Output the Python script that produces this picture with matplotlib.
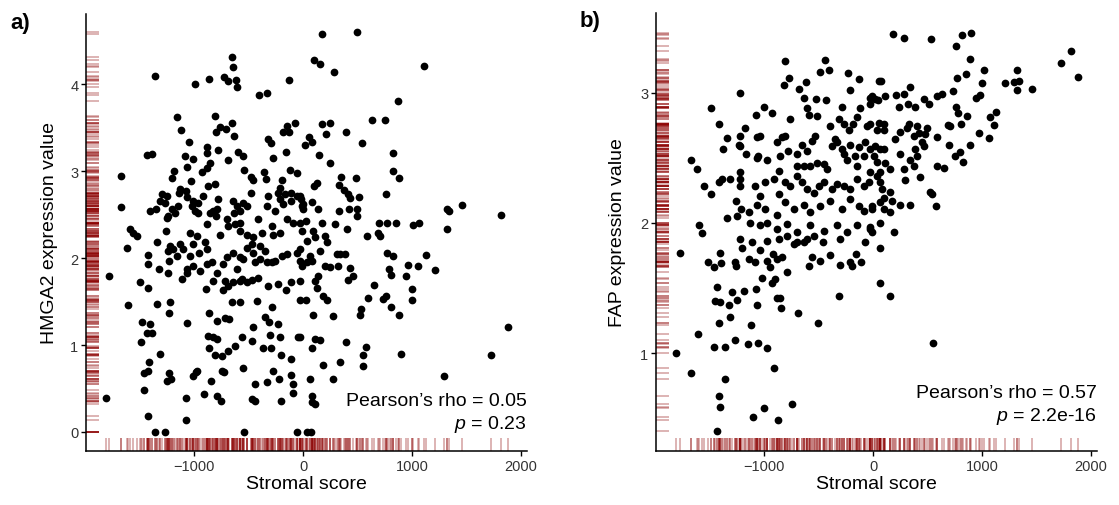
import matplotlib
matplotlib.use("Agg")
import matplotlib.pyplot as plt
import numpy as np

plt.rcParams['font.family'] = ['Liberation Sans', 'DejaVu Sans']
plt.rcParams['mathtext.fontset'] = 'custom'
plt.rcParams['mathtext.it'] = 'Liberation Sans:italic'
plt.rcParams['mathtext.rm'] = 'Liberation Sans'

# panel a: stromal score vs HMGA2
stromal_a = [
    -654, -639, -1361, -725, -685, -617, -603, -994, -865, -401, -328, -126,
    -1159, -810, -654, -761, -706, -801, -636, -1122, -1046, -883, -883, -777,
    -1434, -1388, -1080, -1006, -685, -593, -553, -318, -296, -181, -128, -150, -73,
    -272, -153, -119, -58, 52, 21, -1670, -1670, -1183, -1199,
    -1067, -929, -883, -853, -1030, -1128, -1073, -1140, -869, -805,
    -538, -477, -462, -355, -342, -477, -318, -211, -232, -190,
    -110, -58, -18, -6, -1296, -1250, -1312, -1266, -1404, -1349,
    -1205, -1144, -1174, -1236, -1245,
    -1067, -1006, -1021, -960, -915, -991, -960,
    -783, -792, -823, -853, -801,
    -639, -548, -608, -517, -578, -633,
    -410, -333, -257, -211, -181, -165, -113, -28, 3, -3,
    -150, -89, -28, -700, -578,
    172, 498, 101, 156, 287, 1113, 869, 630, 752, 177, 248, 211, 85, 394, 544,
    150, 248, 823, 823, 884, 349, 486, 101, 126, 333, 376, 410, 431, 517,
    80, 140, 28, 761, 425, 493, 493, 333, 1318, 1343, 1462, 1817,
    172, 294, 401, 697, 768, 853, 1012, 1064, 1318,
    -12, 34, 95, 110, 202, 217, 584, 691, 706,
    -28, 64, 80, 156, 309, 339, 385, 202, 248, 324, 431,
    768, 823, 1128, 967, 1059, 1212, 792, 805, 945,
    -12, -28, 110, 140, 126, 416, 462, 651, 997, 997,
    600, 733, 764, 805, 884, -28, 28, 186, 217,
    89, 278, 523, 532, 1878, 1727, 1294, 899,
    -28, 110, 156, 80, 394, 578, 548, 181, 339, 553, 272, 80, 110, 80,
    -1361, -1263, -541, -58, 34, 71,
    -1587, -1557, -1526, -1260, -1037, -975, -899, -883, -761, -685, -624, -578,
    -517, -456, -379, -287, -272, -211,
    -1618, -1419, -1342, -1419,
    -1220, -1236, -1190, -1128, -1098, -1227, -1159,
    -1006, -1037, -951, -883, -1006, -1067, -1113, -1067, -945,
    -1321, -1236,
    -883, -837, -792, -823, -731, -700, -639, -578, -548, -716, -639, -562, -608,
    -517, -472, -456, -394, -349, -440, -394, -333, -287, -257, -196, -150, -58, -28, 34,
    -1495, -1419,
    -890, -737, -685, -578, -517, -472, -410,
    -318, -227, -156, -113,
    -1609, -1337, -1220, -1229,
    -654, -578, -425, -287,
    -860, -792, -716, -676, -349, -309, -227, -456,
    -1474, -1404, -1434, -1388, -1489, -1067,
    -874, -823, -792, -860, -807, -746, -685, -624, -562, -465,
    -364, -294, -303, -211, -202, -113, -43,
    -1312, -1410, -1456, -1419,
    -1227, -1245, -1214,
    -1006, -982, -970, -844,
    -746, -725, -548,
    -440, -327, -278, -217, -113, -94, -89, 64,
    -1456, -1807,
    -1073, -906, -792, -752, -471, -440, -202,
    -1419, -1073,
    -1777,
]
hmga2 = [
    4.32, 4.20, 4.10, 4.09, 4.04, 4.05, 3.97, 4.01, 4.06, 3.88, 3.90, 4.05,
    3.63, 3.64, 3.55, 3.51, 3.49, 3.45, 3.41, 3.47, 3.34, 3.28, 3.21, 3.25,
    3.19, 3.20, 3.18, 3.14, 3.13, 3.22, 3.18, 3.37, 3.32, 3.45, 3.45, 3.52, 3.56,
    3.15, 3.22, 3.02, 2.98, 3.39, 3.30, 2.95, 2.59, 3.00, 2.92,
    3.05, 2.99, 3.04, 3.10, 2.89, 2.79, 2.77, 2.75, 2.83, 2.85,
    3.02, 2.93, 2.90, 2.99, 2.91, 2.75, 2.72, 2.81, 2.75, 2.90,
    2.75, 2.72, 2.68, 2.60, 2.74, 2.72, 2.66, 2.64, 2.54, 2.57,
    2.56, 2.60, 2.52, 2.49, 2.46,
    2.70, 2.66, 2.60, 2.64, 2.72, 2.54, 2.52,
    2.68, 2.56, 2.54, 2.52, 2.49,
    2.66, 2.64, 2.60, 2.60, 2.54, 2.52,
    2.45, 2.60, 2.54, 2.68, 2.62, 2.74, 2.66, 2.72, 2.56, 2.62,
    2.45, 2.41, 2.41, 2.45, 2.41,
    4.58, 4.60, 4.28, 4.24, 4.14, 4.21, 3.81, 3.59, 3.59, 3.54, 3.55, 3.43, 3.34, 3.45, 3.33,
    3.19, 3.10, 3.21, 3.00, 2.92, 2.93, 2.92, 2.83, 2.87, 2.84, 2.78, 2.74, 2.69, 2.70,
    2.65, 2.57, 2.43, 2.74, 2.57, 2.56, 2.48, 2.54, 2.57, 2.54, 2.61, 2.50,
    2.41, 2.39, 2.33, 2.41, 2.40, 2.41, 2.38, 2.40, 2.33,
    2.31, 2.20, 2.31, 2.24, 2.26, 2.19, 2.26, 2.29, 2.26,
    2.10, 2.03, 1.97, 2.08, 2.05, 2.05, 2.05, 1.91, 1.90, 1.91, 1.89,
    2.06, 2.03, 2.04, 1.92, 1.91, 1.86, 1.87, 1.81, 1.80,
    1.91, 1.74, 1.74, 1.80, 1.66, 1.75, 1.79, 1.69, 1.65, 1.52,
    1.54, 1.53, 1.56, 1.44, 1.34, 1.52, 1.52, 1.56, 1.52,
    1.35, 1.33, 1.35, 1.41, 1.21, 0.88, 0.64, 0.90,
    1.09, 1.07, 1.06, 0.97, 1.03, 0.98, 0.89, 0.77, 0.81, 0.76, 0.61, 0.41, 0.32, 0.34,
    0.0, 0.0, 0.0, 0.0, 0.0, 0.0,
    2.33, 2.29, 2.25, 2.31, 2.29, 2.26, 2.18, 2.39, 2.27, 2.37, 2.39, 2.31,
    2.27, 2.24, 2.29, 2.37, 2.27, 2.29,
    2.12, 2.04, 2.18, 1.93,
    2.14, 2.08, 2.10, 2.16, 2.10, 1.97, 2.03,
    2.16, 2.03, 2.06, 2.10, 1.91, 1.87, 1.76, 1.83, 1.85,
    1.87, 1.83,
    1.93, 1.95, 1.83, 1.74, 1.93, 2.01, 2.06, 2.01, 1.99, 1.74, 1.72, 1.76, 1.87,
    2.12, 2.16, 2.06, 2.14, 2.08, 1.95, 1.99, 1.95, 1.95, 1.97, 2.03, 2.05, 2.06, 1.97, 1.95,
    1.72, 1.66,
    1.64, 1.63, 1.68, 1.74, 1.72, 1.75, 1.77,
    1.68, 1.70, 1.63, 1.73,
    1.46, 1.47, 1.49, 1.37,
    1.49, 1.50, 1.51, 1.44,
    1.37, 1.28, 1.31, 1.30, 1.32, 1.26, 1.24, 1.21,
    1.26, 1.24, 1.14, 1.14, 1.03, 1.25,
    1.10, 1.09, 1.07, 0.97, 0.89, 0.87, 0.93, 0.99, 1.09, 1.05,
    0.97, 0.97, 1.12, 1.09, 0.89, 0.84, 1.09,
    0.90, 0.80, 0.68, 0.70,
    0.68, 0.59, 0.61,
    0.64, 0.69, 0.70, 0.59,
    0.70, 0.69, 0.73,
    0.55, 0.57, 0.70, 0.61, 0.66, 0.55, 0.45, 0.61,
    0.48, 0.39,
    0.39, 0.44, 0.41, 0.36, 0.38, 0.35, 0.35,
    0.18, 0.14,
    1.80,
]

# panel b: stromal score vs FAP
stromal_b = [
    -805, -438, -484, -407, -233, -132, -208, 58,
    -774, -820, -683, -612, -1224, -637, -520, -428,
    -1486, -1004, -1071, -927, -606, -591, -514, -765,
    -284, -117, -9, 46, -25,
    -1417, -1178,
    -392, -316, -270, -224, -147, -183, -55, -25, 51,
    -1339, -1224, -1233, -1064, -1034, -881, -835, -805,
    -1380, -1217, -1165,
    -1059, -857, -783, -697, -651, -606, -560, -529,
    -376, -330, -284, -270, -346, -208, -132, -71, -25, 6, 67, -86, -162, -239, -147,
    -1667, -1615,
    -1217, -1064, -973, -866, -697, -637, -575, -514, -453, -422,
    -1554, -1486, -1417, -1385, -1309, -1217, -1224,
    -1080, -1034, -988, -912, -866, -805, -759, -697, -651, -606, -545, -499, -453,
    -376, -330, -270, -208, -147, -86, -40, 67, 37,
    -1254, -1211, -1141, -1064, -988, -881, -805, -728, -637, -575, -484, -392,
    -284, -208, -132, -86, -9, 67,
    -1600, -1569, -1339, -1248, -1126, -1034, -973, -881, -789, -697, -575, -453,
    -330, -239, -147, -25, 67,
    -1217, -1202, -1110, -973, -866, -789, -697, -606, -545, -459, -300, -71, 61,
    -1768,
    -1517, -1462, -1407, -1392, -1263, -1254, -1141, -1080, -1034, -973, -942, -917, -881, -835, -789,
    -728, -637, -591, -560, -484, -392, -300, -215, -193, -153, -110, 61,
    -1018, -927, -896,
    -1431, -1294, -1187, -1071,
    -1447, -1407, -1318, -1248, -1064, -881, -850, -844,
    -316, -688, -508, -1309, -1417, -1119, -1609,
    -1457, -1361, -1263, -1150, -1055, -973,
    -1805, -1670, -1355, -906, -1417, -1407, -1004, -1105, -872, -743, -1431,
    180, 287, 532, 764, 817, 902, 886, 1819, 1727, 1881,
    76, 113, -25, 21, 214, 281, 342, 318, 235, 388,
    464, 510, 587, 633, 734, 771, 856, 1015, 1000, 984, 948, 1214, 1296, 1336, 1321, 1321, 1459,
    764, 776, 862, 807, 684, 709, 1070, 1131, 1113, 969, 1061, 886,
    795, 755, 822, 694, 587,
    97, 97, 37, 205, 251, 312, 327, 404, 419, 495, 480, 373, 450, 464, 388,
    21, 97, 37, 113, 159, 251, 281, 342, 404, 373, 297, 434, 587, 654,
    -25, 67, 83, 159, 97, 174, 251, 336, 526, 541, 578, 97, 159, -9, -25, 195,
    -9, 159, 550,
]
fap = [
    3.24, 3.25, 3.16, 3.17, 3.15, 3.10, 3.02, 3.09,
    3.11, 3.06, 3.03, 3.08, 3.00, 2.96, 2.95, 2.94,
    2.88, 2.89, 2.83, 2.84, 2.88, 2.83, 2.82, 2.80,
    2.89, 2.88, 2.97, 2.94, 2.91,
    2.76, 2.73,
    2.74, 2.80, 2.76, 2.71, 2.81, 2.76, 2.74, 2.76, 2.77,
    2.65, 2.67, 2.60, 2.66, 2.67, 2.62, 2.66, 2.67,
    2.57, 2.59, 2.53,
    2.51, 2.51, 2.55, 2.53, 2.60, 2.55, 2.63, 2.67,
    2.59, 2.62, 2.57, 2.53, 2.64, 2.60, 2.58, 2.62, 2.57, 2.51, 2.57, 2.51, 2.51, 2.48, 2.44,
    2.48, 2.41,
    2.39, 2.50, 2.48, 2.40, 2.44, 2.44, 2.44, 2.46, 2.45, 2.41,
    2.28, 2.22, 2.31, 2.34, 2.34, 2.28, 2.34,
    2.28, 2.21, 2.31, 2.34, 2.22, 2.31, 2.28, 2.36, 2.31, 2.26, 2.23, 2.28, 2.31,
    2.26, 2.30, 2.28, 2.26, 2.34, 2.28, 2.31, 2.31, 2.36,
    2.17, 2.11, 2.08, 2.14, 2.11, 2.06, 2.16, 2.11, 2.14, 2.08, 2.13, 2.17,
    2.11, 2.18, 2.13, 2.09, 2.11, 2.16,
    1.98, 1.92, 2.04, 2.05, 2.00, 1.98, 2.00, 1.95, 1.99, 1.93, 1.98, 1.94,
    1.98, 1.93, 1.98, 1.95, 2.00,
    1.88, 1.81, 1.85, 1.86, 1.88, 1.90, 1.85, 1.88, 1.90, 1.85, 1.88, 1.85, 1.81,
    1.77,
    1.70, 1.66, 1.77, 1.69, 1.70, 1.67, 1.72, 1.70, 1.79, 1.71, 1.66, 1.76, 1.72, 1.74, 1.62,
    1.84, 1.85, 1.67, 1.74, 1.71, 1.75, 1.68, 1.70, 1.67, 1.76, 1.70, 1.54,
    1.58, 1.54, 1.57,
    1.51, 1.47, 1.48, 1.49,
    1.40, 1.39, 1.37, 1.41, 1.37, 1.42, 1.42, 1.35,
    1.44, 1.31, 1.23, 1.28, 1.23, 1.22, 1.15,
    1.05, 1.05, 1.10, 1.07, 1.08, 1.04,
    1.00, 0.85, 0.80, 0.89, 0.67, 0.59, 0.58, 0.51, 0.49, 0.61, 0.40,
    3.45, 3.42, 3.41, 3.36, 3.44, 3.46, 3.26, 3.32, 3.23, 3.12,
    3.09, 2.97, 2.96, 2.95, 2.98, 2.99, 3.04, 2.91, 2.89, 2.89,
    2.95, 2.91, 2.97, 2.99, 3.01, 3.11, 3.14, 3.17, 3.07, 2.98, 2.96, 3.07, 3.08, 3.09, 3.17, 3.02, 3.03,
    2.89, 2.84, 2.82, 2.76, 2.75, 2.74, 2.81, 2.85, 2.75, 2.69, 2.65, 2.60,
    2.54, 2.51, 2.47, 2.60, 2.66,
    2.76, 2.71, 2.71, 2.64, 2.70, 2.73, 2.76, 2.74, 2.69, 2.73, 2.68, 2.67, 2.62, 2.59, 2.57,
    2.59, 2.57, 2.47, 2.46, 2.41, 2.53, 2.41, 2.48, 2.51, 2.44, 2.33, 2.35, 2.44, 2.42,
    2.39, 2.39, 2.26, 2.24, 2.19, 2.17, 2.14, 2.14, 2.24, 2.22, 2.13, 2.11, 2.08, 2.13, 1.97, 1.93,
    1.93, 1.44, 1.08,
]

panels = [
    dict(x=stromal_a, y=hmga2, ylabel='HMGA2 expression value', yticks=[0, 1, 2, 3, 4],
         ylim=(-0.22, 4.81), rho='0.05', p='0.23', ty=(0.115, 0.062), pad=8.5, tag='a)'),
    dict(x=stromal_b, y=fap, ylabel='FAP expression value', yticks=[1, 2, 3],
         ylim=(0.25, 3.61), rho='0.57', p='2.2e-16', ty=(0.134, 0.081), pad=10, tag='b)'),
]
axes_pos = [[86/1119, 54/506, 441/1119, 437/506], [656/1119, 54/506, 441/1119, 438/506]]
tag_pos = [(10/1119, 1 - 24/506), (580/1119, 1 - 21/506)]
rug_col = '#8B0000'

fig = plt.figure(figsize=(11.19, 5.06), dpi=100)
for pn, pos, tp in zip(panels, axes_pos, tag_pos):
    ax = fig.add_axes(pos)
    x = np.array(pn['x'])
    y = np.array(pn['y'])
    # rugs
    ax.vlines(x, 0, 0.03, transform=ax.get_xaxis_transform(), color=rug_col, alpha=0.35, lw=1.2)
    ax.hlines(y, 0, 0.03, transform=ax.get_yaxis_transform(), color=rug_col, alpha=0.35, lw=1.2)
    ax.scatter(x, y, s=31, c='black', linewidths=0, zorder=3)

    ax.set_xlim(-1991, 2055)
    ax.set_ylim(*pn['ylim'])
    ax.set_xticks([-1000, 0, 1000, 2000])
    ax.set_xticklabels(['\u22121000', '0', '1000', '2000'])
    ax.set_yticks(pn['yticks'])
    for s in ['top', 'right']:
        ax.spines[s].set_visible(False)
    for s in ['left', 'bottom']:
        ax.spines[s].set_linewidth(1.1)
    ax.tick_params(direction='out', length=3.5, width=1, labelsize=10.5, colors='black',
                   labelcolor='#333333', pad=2)
    ax.set_xlabel('Stromal score', fontsize=14, labelpad=2)
    ax.set_ylabel(pn['ylabel'], fontsize=14, labelpad=pn['pad'])

    ax.text(1.0, pn['ty'][0], "Pearson\u2019s rho = " + pn['rho'], transform=ax.transAxes,
            ha='right', va='center', fontsize=14)
    ax.text(1.0, pn['ty'][1], "$p$ = " + pn['p'], transform=ax.transAxes,
            ha='right', va='center', fontsize=14)
    fig.text(tp[0], tp[1], pn['tag'], fontsize=16, fontweight='bold', va='center', ha='left')

fig.savefig('out.png', dpi=100)
